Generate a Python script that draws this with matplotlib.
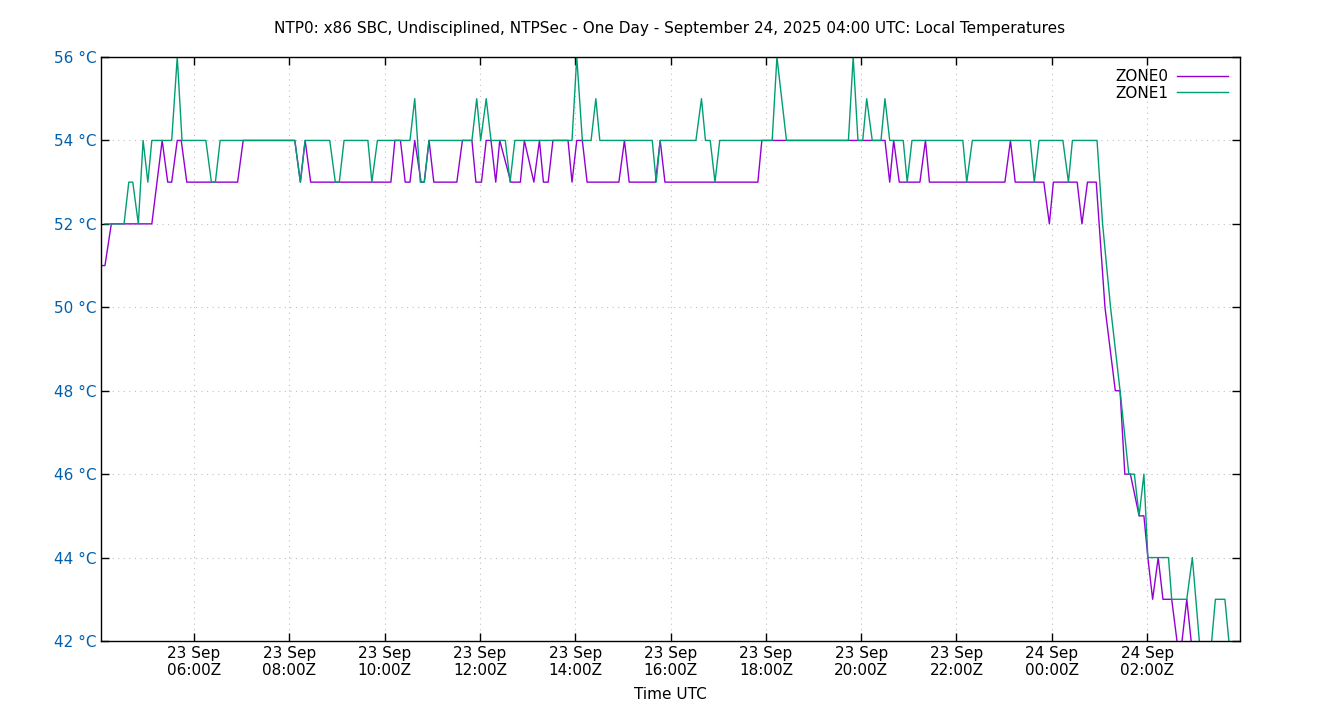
import matplotlib
matplotlib.use("Agg")
import matplotlib.pyplot as plt
import matplotlib.dates as mdates
import numpy as np

START = np.datetime64("2025-09-23T04:00")

# minutes after 04:00Z, temperature in degC
ZONE0_MIN = [3, 8, 16, 67, 80, 87, 92, 99, 104, 111, 175, 182, 247, 254, 260, 267,
             368, 373, 380, 386, 392, 398, 406, 410, 416, 422, 451, 458, 470, 475, 482, 488,
             494, 500, 505, 519, 531, 536, 548, 555, 560, 566, 572, 591, 596, 602,
             609, 615, 655, 662, 668, 701, 707, 713, 830, 835, 990, 996, 1001, 1008,
             1034, 1041, 1046, 1141, 1148, 1154, 1190, 1197, 1202, 1232, 1238, 1245,
             1256, 1267, 1280, 1286, 1292, 1299, 1310, 1316, 1321, 1327, 1334, 1340,
             1351, 1361, 1370, 1381]
ZONE0_VAL = [51, 51, 52, 52, 54, 53, 53, 54, 54, 53, 53, 54, 54, 53, 54, 53,
             53, 54, 54, 53, 53, 54, 53, 53, 54, 53, 53, 54, 54, 53, 53, 54,
             54, 53, 54, 53, 53, 54, 53, 54, 53, 53, 54, 54, 53, 54,
             54, 53, 53, 54, 53, 53, 54, 53, 53, 54, 54, 53, 54, 53,
             53, 54, 53, 53, 54, 53, 53, 52, 53, 53, 52, 53,
             53, 50, 48, 48, 46, 46, 45, 45, 44, 43, 44, 43,
             43, 41.5, 43, 41]

ZONE1_MIN = [8, 32, 38, 43, 50, 56, 62, 67, 92, 99, 105, 135, 142, 147, 153, 247,
             254, 260, 291, 298, 303, 309, 339, 344, 351, 392, 398, 405, 410, 416,
             470, 476, 481, 488, 494, 512, 518, 524, 596, 602, 609, 620, 626, 631,
             697, 702, 707, 752, 759, 764, 770, 776, 782, 848, 854, 866, 944, 950,
             956, 962, 967, 974, 985, 990, 996, 1013, 1018, 1024, 1088, 1093, 1100,
             1173, 1178, 1184, 1214, 1221, 1226, 1257, 1264, 1274, 1286, 1297, 1304,
             1310, 1316, 1321, 1347, 1351, 1370, 1377, 1388, 1399, 1406, 1418, 1423, 1427]
ZONE1_VAL = [52, 52, 53, 53, 52, 54, 53, 54, 54, 56, 54, 54, 53, 53, 54, 54,
             53, 54, 54, 53, 53, 54, 54, 53, 54, 54, 55, 53, 53, 54,
             54, 55, 54, 55, 54, 54, 53, 54, 54, 56, 54, 54, 55, 54,
             54, 53, 54, 54, 55, 54, 54, 53, 54, 54, 56, 54, 54, 56,
             54, 54, 55, 54, 54, 55, 54, 54, 53, 54, 54, 53, 54,
             54, 53, 54, 54, 53, 54, 54, 52, 50, 48, 46, 46,
             45, 46, 44, 44, 43, 43, 44, 41.5, 41.5, 43, 43, 42, 41]

Y_TICKS = [42, 44, 46, 48, 50, 52, 54, 56]
TICK_HOURS = [0, 2, 6, 8, 10, 12, 14, 16, 18, 20, 22]
TITLE = "NTP0: x86 SBC, Undisciplined, NTPSec - One Day - September 24, 2025 04:00 UTC: Local Temperatures"


def to_times(minutes):
    return START + np.array(minutes).astype("timedelta64[m]")


fig = plt.figure(figsize=(13.4, 7.2), dpi=100)
ax = fig.add_axes([101 / 1340, 79 / 720, 1139 / 1340, 584 / 720])

ax.plot(to_times(ZONE0_MIN), ZONE0_VAL, color="#9400d3", linewidth=1.0, label="ZONE0")
ax.plot(to_times(ZONE1_MIN), ZONE1_VAL, color="#009e73", linewidth=1.0, label="ZONE1")

ax.set_xlim(START + np.timedelta64(3, "m"), START + np.timedelta64(1437, "m"))
ax.set_ylim(42, 56)
ax.set_yticks(Y_TICKS)
ax.set_yticklabels([f"{v} °C" for v in Y_TICKS], color="#0060ad", fontsize=11)

ax.xaxis.set_major_locator(mdates.HourLocator(byhour=TICK_HOURS))
ax.xaxis.set_major_formatter(mdates.DateFormatter("%d %b\n%H:%MZ"))
for label in ax.get_xticklabels():
    label.set_fontsize(11)

ax.tick_params(direction="in", top=True, right=True, length=6, width=1)
ax.grid(True, color="#c0c0c0", linestyle=(0, (1, 4)), linewidth=0.8)
for spine in ax.spines.values():
    spine.set_linewidth(1.0)

ax.set_xlabel("Time UTC", fontsize=11, labelpad=6)
fig.text(0.5, 1 - 28 / 720, TITLE, ha="center", va="center", fontsize=11)

ax.legend(loc="upper right", frameon=False, markerfirst=False, fontsize=11,
          handlelength=3.3, handletextpad=0.6, labelspacing=0.1,
          borderaxespad=0.4)

fig.savefig("out.png", dpi=100)
